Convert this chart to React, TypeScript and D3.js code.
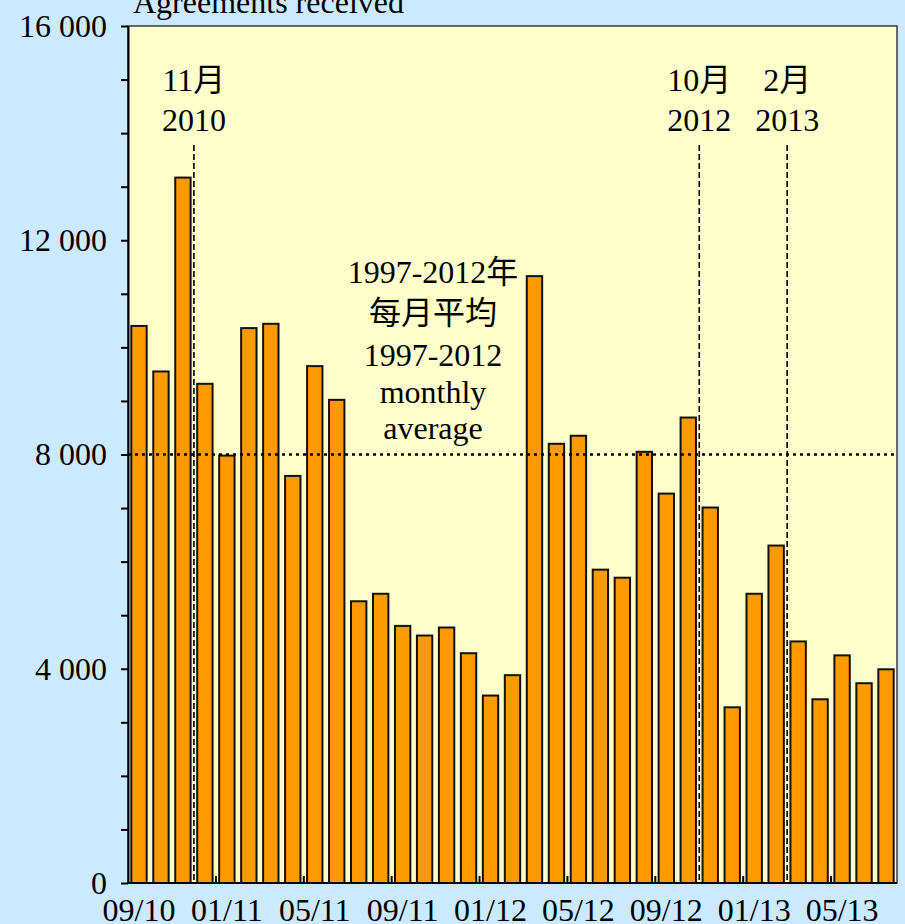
import { useEffect, useRef } from "react";
import * as d3 from "d3";

const months = [
  "09/10", "10/10", "11/10", "12/10",
  "01/11", "02/11", "03/11", "04/11", "05/11", "06/11", "07/11", "08/11", "09/11", "10/11", "11/11", "12/11",
  "01/12", "02/12", "03/12", "04/12", "05/12", "06/12", "07/12", "08/12", "09/12", "10/12", "11/12", "12/12",
  "01/13", "02/13", "03/13", "04/13", "05/13", "06/13", "07/13",
];
const agreements = [
  10400, 9550, 13170, 9320,
  7980, 10360, 10440, 7600, 9650, 9020, 5260, 5400, 4800, 4620, 4770, 4290,
  3500, 3880, 11330, 8200, 8350, 5850, 5700, 8050, 7270, 8690, 7010, 3280,
  5400, 6300, 4510, 3430, 4250, 3730, 3990,
];
const xLabels = ["09/10", "01/11", "05/11", "09/11", "01/12", "05/12", "09/12", "01/13", "05/13"];
const yTicks = [0, 1000, 2000, 3000, 4000, 5000, 6000, 7000, 8000, 9000, 10000, 11000, 12000, 13000, 14000, 15000, 16000];
const yLabelled = [0, 4000, 8000, 12000, 16000];
const average = 8000;
const markerMonths = ["11/10", "10/12", "02/13"];
const markerLabels = [["11月", "2010"], ["10月", "2012"], ["2月", "2013"]];
const avgLabel = ["1997-2012年", "每月平均", "1997-2012", "monthly", "average"];
const title = "Agreements received";

const FONT = "'Liberation Serif', 'Times New Roman', 'Noto Sans CJK TC', serif";
const FS = "32px";

export default function App() {
  const ref = useRef<SVGSVGElement>(null);

  useEffect(() => {
    document.body.style.margin = "0";
    const el = ref.current;
    if (!el) return;

    const W = 905;
    const H = 924;
    const M = { top: 26, right: 8, bottom: 41, left: 128 };

    d3.select(el).selectAll("*").remove();
    const svg = d3.select(el);

    svg.append("rect").attr("width", W).attr("height", H).attr("fill", "#cceaff");

    const x = d3.scaleBand()
      .domain(months)
      .range([M.left, W - M.right])
      .paddingInner(0.3)
      .paddingOuter(0.15);
    const y = d3.scaleLinear().domain([0, 16000]).range([H - M.bottom, M.top]);
    const step = x.step();
    const bw = x.bandwidth();
    const cellLeft = (m: string) => (x(m) as number) - step * 0.15;
    const cellRight = (m: string) => (x(m) as number) + bw + step * 0.15;

    // plot area
    svg.append("rect")
      .attr("x", M.left).attr("y", M.top)
      .attr("width", W - M.right - M.left).attr("height", H - M.bottom - M.top)
      .attr("fill", "#ffffcc").attr("stroke", "#3a3a3a").attr("stroke-width", 1.5);

    // bars
    svg.selectAll(".bar")
      .data(agreements).join("rect").attr("class", "bar")
      .attr("x", (_, i) => x(months[i]) as number)
      .attr("width", bw)
      .attr("y", (d) => y(d))
      .attr("height", (d) => y(0) - y(d))
      .attr("fill", "#ff9900")
      .attr("stroke", "#111").attr("stroke-width", 2);

    // average line
    svg.append("line")
      .attr("x1", M.left).attr("x2", W - M.right)
      .attr("y1", y(average)).attr("y2", y(average))
      .attr("stroke", "#000").attr("stroke-width", 2.6).attr("stroke-dasharray", "3,4");

    // marker lines
    markerMonths.forEach((m) => {
      const mx = cellRight(m);
      svg.append("line")
        .attr("x1", mx).attr("x2", mx)
        .attr("y1", 145).attr("y2", y(0))
        .attr("stroke", "#000").attr("stroke-width", 1.6).attr("stroke-dasharray", "6,3");
    });

    // y axis
    const fmt = d3.formatLocale({ decimal: ".", thousands: " ", grouping: [3], currency: ["", ""] }).format(",");
    svg.append("g")
      .attr("transform", `translate(${M.left},0)`)
      .call(d3.axisLeft(y).tickValues(yTicks).tickSize(7).tickSizeOuter(0).tickPadding(14)
        .tickFormat((v) => (yLabelled.includes(+v) ? fmt(+v) : "")))
      .call((g) => g.select(".domain").attr("stroke", "#000").attr("stroke-width", 2))
      .call((g) => g.selectAll(".tick line").attr("stroke", "#000").attr("stroke-width", 2))
      .call((g) => g.selectAll(".tick text").attr("fill", "#000").style("font-family", FONT).style("font-size", FS));

    // x axis
    svg.append("line")
      .attr("x1", M.left).attr("x2", W - M.right)
      .attr("y1", y(0)).attr("y2", y(0))
      .attr("stroke", "#000").attr("stroke-width", 2);
    xLabels.slice(1).forEach((m) => {
      const tx = cellLeft(m);
      svg.append("line")
        .attr("x1", tx).attr("x2", tx)
        .attr("y1", y(0)).attr("y2", y(0) - 7)
        .attr("stroke", "#000").attr("stroke-width", 2);
    });
    svg.selectAll(".xlab")
      .data(xLabels).join("text").attr("class", "xlab")
      .attr("x", (d) => (x(d) as number) + bw / 2)
      .attr("y", 921)
      .attr("text-anchor", "middle")
      .style("font-family", FONT).style("font-size", FS)
      .text((d) => d);

    // marker labels
    markerMonths.forEach((m, i) => {
      const mx = cellRight(m);
      markerLabels[i].forEach((t, j) => {
        svg.append("text")
          .attr("x", mx).attr("y", 91 + j * 40)
          .attr("text-anchor", "middle")
          .style("font-family", FONT).style("font-size", FS)
          .text(t);
      });
    });

    // average label
    const avgY = [283, 324, 366, 403, 439];
    avgLabel.forEach((t, j) => {
      svg.append("text")
        .attr("x", 433).attr("y", avgY[j])
        .attr("text-anchor", "middle")
        .style("font-family", FONT).style("font-size", FS)
        .text(t);
    });

    // title
    svg.append("text")
      .attr("x", 133).attr("y", 13)
      .style("font-family", FONT).style("font-size", FS)
      .text(title);
  }, []);

  return <svg ref={ref} width={905} height={924} style={{ display: "block" }} />;
}
